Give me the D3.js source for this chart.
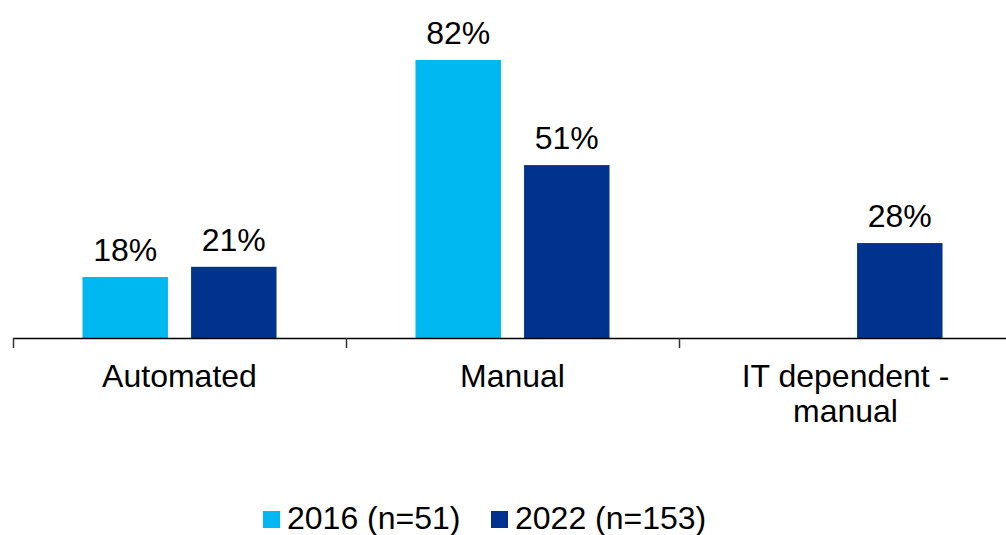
<!DOCTYPE html>
<html>
<head>
<meta charset="utf-8">
<script src="https://cdn.jsdelivr.net/npm/d3@7"></script>
<style>
  body { margin: 0; background: #fff; }
  text { font-family: "Liberation Sans", Arial, sans-serif; fill: #000; }
</style>
</head>
<body>
<div id="chart"></div>
<script>
// Grouped bar chart: control type share, 2016 vs 2022

const categories = ["Automated", "Manual", "IT dependent - manual"];
const categoryLines = [["Automated"], ["Manual"], ["IT dependent -", "manual"]];
const series = ["2016 (n=51)", "2022 (n=153)"];
const values2016 = [18, 82, null];
const values2022 = [21, 51, 28];
const colors = ["#00B8F1", "#00338D"];

const width = 1006, height = 535;
const baseY = 338;

const svg = d3.select("#chart")
    .append("svg")
    .attr("width", width)
    .attr("height", height);

const x0 = d3.scaleBand()
    .domain(categories)
    .range([13, 1012]);

const x1 = d3.scaleBand()
    .domain(series)
    .range([0, x0.bandwidth()])
    .paddingInner(0.213)
    .paddingOuter(0.64);

const y = d3.scaleLinear()
    .domain([0, 82])
    .range([baseY, 60]);

const color = d3.scaleOrdinal().domain(series).range(colors);

const rows = [];
categories.forEach((c, i) => {
    rows.push({ cat: c, s: series[0], v: values2016[i] });
    rows.push({ cat: c, s: series[1], v: values2022[i] });
});
const data = rows.filter(d => d.v != null);

// Bars
svg.selectAll("rect.bar")
    .data(data)
    .enter()
    .append("rect")
    .attr("class", "bar")
    .attr("x", d => x0(d.cat) + x1(d.s))
    .attr("y", d => y(d.v))
    .attr("width", x1.bandwidth())
    .attr("height", d => baseY - y(d.v))
    .attr("fill", d => color(d.s));

// Value labels
svg.selectAll("text.val")
    .data(data)
    .enter()
    .append("text")
    .attr("class", "val")
    .attr("x", d => x0(d.cat) + x1(d.s) + x1.bandwidth() / 2)
    .attr("y", d => y(d.v) - 16)
    .attr("text-anchor", "middle")
    .style("font-size", "32px")
    .text(d => d.v + "%");

// Axis line and category boundary ticks
svg.append("line")
    .attr("x1", 13).attr("x2", width)
    .attr("y1", baseY + 0.5).attr("y2", baseY + 0.5)
    .attr("stroke", "#000").attr("stroke-width", 1.5);

svg.selectAll("line.tick")
    .data(categories)
    .enter()
    .append("line")
    .attr("class", "tick")
    .attr("x1", d => Math.round(x0(d)) + 0.5)
    .attr("x2", d => Math.round(x0(d)) + 0.5)
    .attr("y1", baseY)
    .attr("y2", baseY + 10)
    .attr("stroke", "#333").attr("stroke-width", 1.5);

// Category labels
categories.forEach((c, i) => {
    const t = svg.append("text")
        .attr("text-anchor", "middle")
        .style("font-size", "32px");
    categoryLines[i].forEach((line, j) => {
        t.append("tspan")
            .attr("x", x0(c) + x0.bandwidth() / 2)
            .attr("y", 387 + j * 35)
            .text(line);
    });
});

// Legend
const legendX = [263, 491];
series.forEach((s, i) => {
    svg.append("rect")
        .attr("x", legendX[i])
        .attr("y", 511)
        .attr("width", 17)
        .attr("height", 17)
        .attr("fill", color(s));
    svg.append("text")
        .attr("x", legendX[i] + 24)
        .attr("y", 529)
        .style("font-size", "32px")
        .text(s);
});
</script>
</body>
</html>
